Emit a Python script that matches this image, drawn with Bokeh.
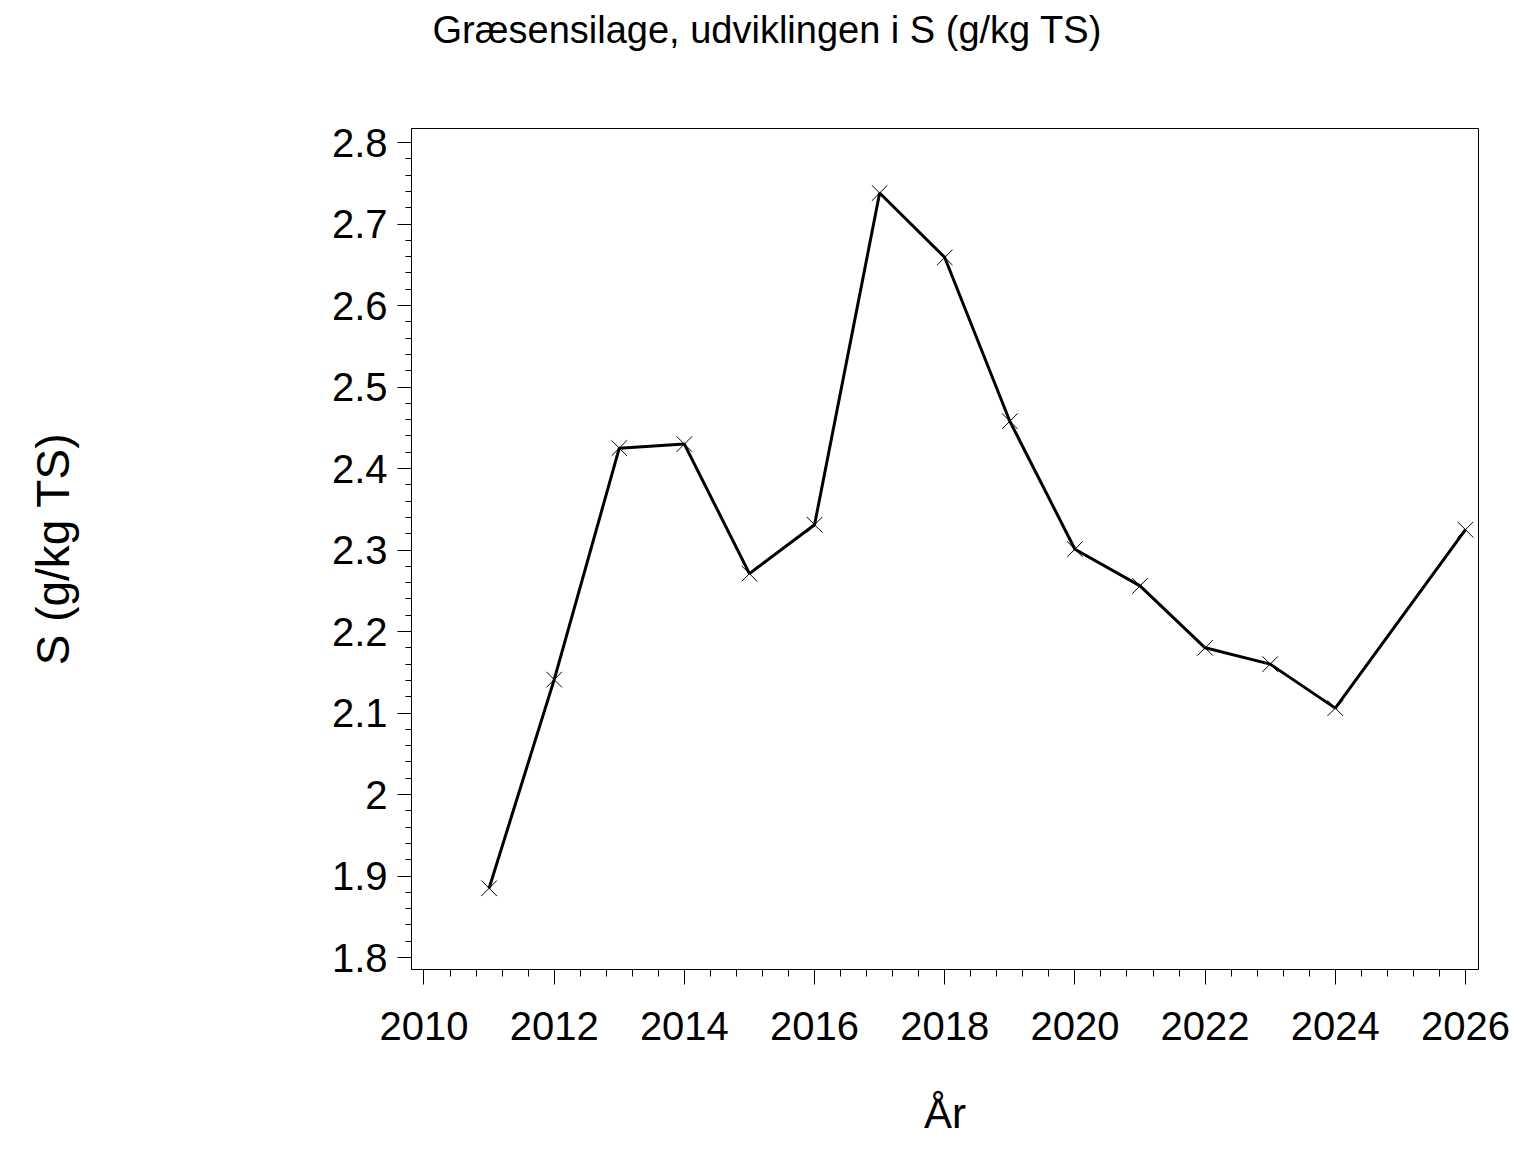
from bokeh.plotting import figure
from bokeh.models import FixedTicker, CustomJSTickFormatter, Range1d, LinearAxis, Title
from bokeh.embed import file_html
from bokeh.resources import INLINE

# ---- data ----
years = [2011, 2012, 2013, 2014, 2015, 2016, 2017, 2018, 2019, 2020, 2021, 2022, 2023, 2024, 2026]
s_values = [1.885, 2.141, 2.425, 2.430, 2.271, 2.331, 2.738, 2.659, 2.458, 2.301, 2.256, 2.180, 2.160, 2.106, 2.325]

title_text = "Græsensilage, udviklingen i S (g/kg TS)"
y_label = "S (g/kg TS)"
x_label = "År"

x_major = [2010, 2012, 2014, 2016, 2018, 2020, 2022, 2024, 2026]
y_major = [1.8, 1.9, 2.0, 2.1, 2.2, 2.3, 2.4, 2.5, 2.6, 2.7, 2.8]
x_minor = [round(2010 + 0.4 * i, 2) for i in range(41)]
y_minor = [round(1.8 + 0.02 * i, 3) for i in range(51)]

FONT = "Liberation Sans"

p = figure(
    width=1528, height=1144, title=None,
    output_backend="svg", toolbar_location=None,
    x_range=Range1d(2009.808, 2026.2),
    y_range=Range1d(1.7853, 2.8172),
    min_border_left=411, min_border_right=50,
    min_border_top=128, min_border_bottom=175,
    background_fill_color="white", border_fill_color="white",
)

# blank spacer axis directly above the frame (invisible tick, empty label) to lift the title
spacer = LinearAxis(
    ticker=FixedTicker(ticks=[2018], minor_ticks=[]),
    formatter=CustomJSTickFormatter(code="return '';"),
    axis_line_color=None, major_tick_line_color=None, minor_tick_line_color=None,
    major_tick_in=0, major_tick_out=68, minor_tick_in=0, minor_tick_out=0,
    major_label_text_font_size="0px", major_label_standoff=0,
)
p.add_layout(spacer, "above")

title = Title(
    text=title_text, text_font=FONT, text_font_size="38px", text_font_style="normal",
    text_color="black", align="left", vertical_align="top", offset=21, standoff=16,
)
p.add_layout(title, "above")

p.outline_line_color = "black"
p.outline_line_width = 1
p.xgrid.visible = False
p.ygrid.visible = False

xax = p.below[0]
yax = p.left[0]
for ax in (xax, yax):
    ax.axis_line_color = "black"
    ax.major_tick_line_color = "black"
    ax.minor_tick_line_color = "black"
    ax.major_label_text_font = FONT
    ax.major_label_text_font_size = "40px"
    ax.major_label_text_color = "black"
    ax.axis_label_text_font = FONT
    ax.axis_label_text_font_style = "normal"
    ax.axis_label_text_color = "black"

xax.axis_label_text_font_size = "42px"
yax.axis_label_text_font_size = "46px"

xax.ticker = FixedTicker(ticks=x_major, minor_ticks=x_minor)
yax.ticker = FixedTicker(ticks=y_major, minor_ticks=y_minor)
yax.formatter = CustomJSTickFormatter(code="return tick.toFixed(1).replace(/\\.0$/, '');")
xax.formatter = CustomJSTickFormatter(code="return tick.toFixed(0);")

xax.major_tick_in = 0
xax.major_tick_out = 15
xax.minor_tick_in = 0
xax.minor_tick_out = 7
yax.major_tick_in = 0
yax.major_tick_out = 14
yax.minor_tick_in = 0
yax.minor_tick_out = 6

xax.major_label_standoff = 27
yax.major_label_standoff = 10
xax.axis_label = x_label
yax.axis_label = y_label
xax.axis_label_standoff = 47
yax.axis_label_standoff = 250

p.line(years, s_values, line_color="black", line_width=3)
p.scatter(years, s_values, marker="x", size=22, line_color="black", line_width=1)

open("out.html", "w").write(file_html(p, INLINE))
